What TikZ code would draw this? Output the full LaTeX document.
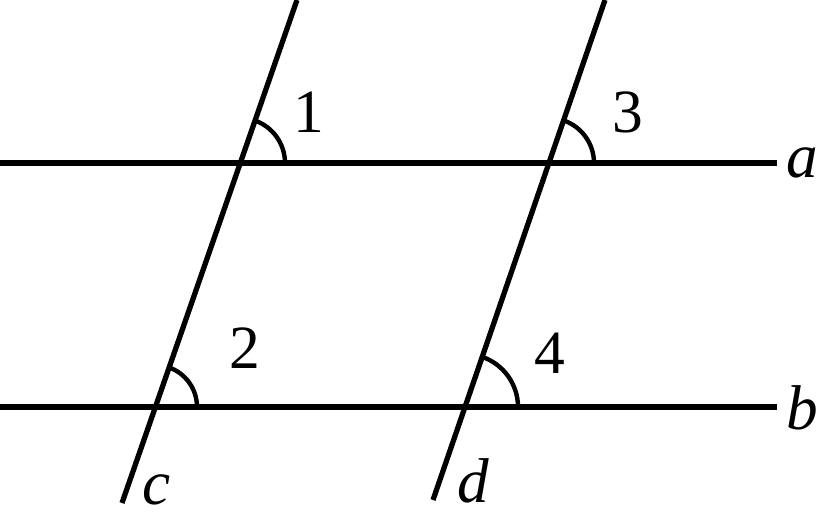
\documentclass[tikz,border=0pt]{standalone}
\usepackage{fontspec}
\setmainfont{Liberation Serif}
\usetikzlibrary{positioning, calc}

\tikzset{
    lineset/.style={line width=3pt},
    anglearc/.style={line width=2.5pt},
    numlabel/.style={font=\fontsize{35}{40}\selectfont, inner sep=0pt},
    letlabel/.style={font=\fontsize{36}{40}\selectfont\itshape, inner sep=0pt}
}

\begin{document}
\begin{tikzpicture}[x=0.02cm, y=0.02cm]
        \useasboundingbox (0,0) rectangle (816,512);

        % Ends of the four lines
        \coordinate (aL) at (0,349);
        \coordinate (aR) at (777,349);
        \coordinate (bL) at (0,105);
        \coordinate (bR) at (777,105);
        \coordinate (cT) at (297,512);
        \coordinate (cB) at (122,9);
        \coordinate (dT) at (605,512);
        \coordinate (dB) at (433,12);

        % Crossing points
        \coordinate (P1) at (240,349);
        \coordinate (P2) at (155,105);
        \coordinate (P3) at (549,349);
        \coordinate (P4) at (465,105);

        % Lines
        \draw[lineset] (aL) -- (aR);
        \draw[lineset] (bL) -- (bR);
        \draw[lineset] (cB) -- (cT);
        \draw[lineset] (dB) -- (dT);

        % Angle marks
        \draw[anglearc] ($(P1)+(45,0)$) arc[start angle=0, end angle=71, radius=0.9cm];
        \draw[anglearc] ($(P2)+(42,0)$) arc[start angle=0, end angle=71, radius=0.84cm];
        \draw[anglearc] ($(P3)+(45,0)$) arc[start angle=0, end angle=71, radius=0.9cm];
        \draw[anglearc] ($(P4)+(53,0)$) arc[start angle=0, end angle=71, radius=1.06cm];

        % Angle numbers
        \node[numlabel] (n1) at (309,400) {1};
        \node[numlabel] (n2) at (245,164) {2};
        \node[numlabel] (n3) at (628,400) {3};
        \node[numlabel] (n4) at (550,159) {4};

        % Line names
        \node[letlabel] (la) at (802,349) {a};
        \node[letlabel] (lb) at (802,104) {b};
        \node[letlabel] (lc) at (157,22) {c};
        \node[letlabel] (ld) at (473,31) {d};
\end{tikzpicture}
\end{document}
